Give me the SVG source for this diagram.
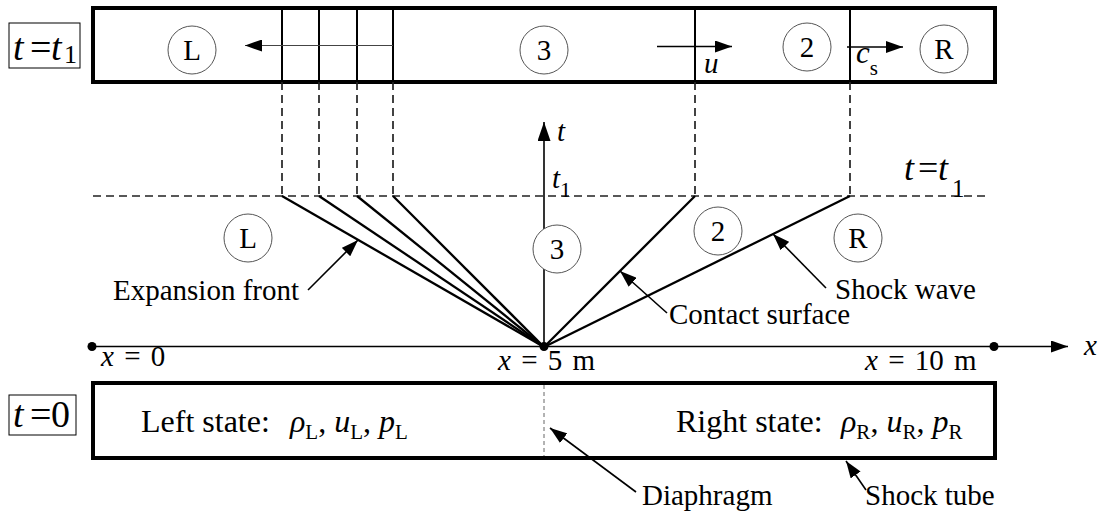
<svg xmlns="http://www.w3.org/2000/svg" width="1102" height="513" viewBox="0 0 1102 513" font-family="'Liberation Serif', 'Times New Roman', serif">
<style>
text{font-family:'Liberation Serif','Times New Roman',serif;fill:#000}
.lbl{font-size:29px}
.it{font-style:italic}
.box{fill:none;stroke:#000;stroke-width:4;stroke-linejoin:miter}
.tag{fill:none;stroke:#000;stroke-width:1}
.cir{fill:#fff;stroke:#555;stroke-width:1}
.cl{font-size:29px;text-anchor:middle}
.dash{fill:none;stroke:#222;stroke-width:1.7;stroke-dasharray:8 5}
.wall{stroke:#000;stroke-width:2}
.fan{stroke:#000;stroke-width:2.3;fill:none}
.ptr{stroke:#000;stroke-width:1.6;fill:none;marker-end:url(#ah)}
</style>
<defs>
<marker id="ah" viewBox="0 0 17 12" refX="17" refY="6" markerWidth="17" markerHeight="12" markerUnits="userSpaceOnUse" orient="auto">
<path d="M0,0 L17,6 L0,12 z" fill="#000"/>
</marker>
<marker id="ax" viewBox="0 0 19 13" refX="19" refY="6.5" markerWidth="19" markerHeight="13" markerUnits="userSpaceOnUse" orient="auto">
<path d="M0,0 L19,6.5 L0,13 z" fill="#000"/>
</marker>
</defs>

<g id="tag-t1">
<rect class="tag" x="9" y="23" width="71" height="45"/>
<text font-size="38" y="60"><tspan class="it" x="13">t</tspan><tspan x="30">=</tspan><tspan class="it" x="51">t</tspan><tspan x="64" dy="3" font-size="26">1</tspan></text>
</g>

<g id="tag-t0">
<rect class="tag" x="9" y="395" width="67" height="40"/>
<text font-size="38" y="427"><tspan class="it" x="13">t</tspan><tspan x="30">=</tspan><tspan x="51">0</tspan></text>
</g>

<g id="tube-t1">
<rect class="box" x="93" y="8" width="902" height="74"/>
<line class="wall" x1="282" y1="8" x2="282" y2="82"/>
<line class="wall" x1="319" y1="8" x2="319" y2="82"/>
<line class="wall" x1="357" y1="8" x2="357" y2="82"/>
<line class="wall" x1="393" y1="8" x2="393" y2="82"/>
<line class="wall" x1="695" y1="8" x2="695" y2="82"/>
<line class="wall" x1="850" y1="8" x2="850" y2="82"/>
</g>

<g id="top-L"><circle class="cir" cx="192" cy="50" r="24"/><text class="cl" x="192" y="60">L</text></g>
<g id="top-3"><circle class="cir" cx="544" cy="50" r="24"/><text class="cl" x="544" y="60">3</text></g>
<g id="top-2"><circle class="cir" cx="807" cy="47" r="24"/><text class="cl" x="807" y="57">2</text></g>
<g id="top-R"><circle class="cir" cx="944" cy="49" r="24"/><text class="cl" x="944" y="59">R</text></g>

<g id="top-arrows">
<line x1="393" y1="45.5" x2="245" y2="45.5" stroke="#444" stroke-width="1.2" marker-end="url(#ah)"/>
<line x1="657" y1="46.5" x2="732" y2="46.5" stroke="#000" stroke-width="1.5" marker-end="url(#ah)"/>
<line x1="847" y1="47" x2="903" y2="47" stroke="#000" stroke-width="1.5" marker-end="url(#ah)"/>
<text class="lbl it" x="704" y="73">u</text>
<text x="856" y="63" font-size="31"><tspan class="it">c</tspan><tspan font-size="21" dy="12">s</tspan></text>
</g>

<g id="connectors">
<line class="dash" x1="282" y1="82" x2="282" y2="196"/>
<line class="dash" x1="319" y1="82" x2="319" y2="196"/>
<line class="dash" x1="357" y1="82" x2="357" y2="196"/>
<line class="dash" x1="393" y1="82" x2="393" y2="196"/>
<line class="dash" x1="695" y1="82" x2="695" y2="196"/>
<line class="dash" x1="850" y1="82" x2="850" y2="196"/>
<line class="dash" x1="93" y1="196" x2="988" y2="196"/>
<line x1="544" y1="347" x2="544" y2="122" stroke="#000" stroke-width="1.6" marker-end="url(#ax)"/>
<line x1="92" y1="346.5" x2="1068" y2="346.5" stroke="#000" stroke-width="1.6" marker-end="url(#ah)"/>
<line class="fan" x1="544" y1="347" x2="282" y2="196"/>
<line class="fan" x1="544" y1="347" x2="319" y2="196"/>
<line class="fan" x1="544" y1="347" x2="357" y2="196"/>
<line class="fan" x1="544" y1="347" x2="393" y2="196"/>
<line class="fan" x1="544" y1="347" x2="695" y2="196"/>
<line class="fan" x1="544" y1="347" x2="850" y2="196"/>
<line class="ptr" x1="308" y1="290" x2="358" y2="240"/>
<line class="ptr" x1="667" y1="313" x2="620" y2="271"/>
<line class="ptr" x1="826" y1="288" x2="773" y2="234"/>
<line class="ptr" x1="636" y1="492" x2="550" y2="428"/>
<line class="ptr" x1="866" y1="490" x2="846" y2="461"/>
<circle cx="92" cy="346.5" r="4.5" fill="#000"/>
<circle cx="544" cy="346.5" r="4.5" fill="#000"/>
<circle cx="994" cy="346.5" r="4.5" fill="#000"/>
</g>

<g id="mid-L"><circle class="cir" cx="248" cy="238" r="24"/><text class="cl" x="248" y="248">L</text></g>
<g id="mid-3"><circle class="cir" cx="557" cy="249" r="24"/><text class="cl" x="557" y="259">3</text></g>
<g id="mid-2"><circle class="cir" cx="718" cy="231" r="24"/><text class="cl" x="718" y="241">2</text></g>
<g id="mid-R"><circle class="cir" cx="858" cy="238" r="24"/><text class="cl" x="858" y="248">R</text></g>

<g id="axis-labels">
<text class="it" x="557" y="141" font-size="29">t</text>
<text x="552" y="188" font-size="29"><tspan class="it">t</tspan><tspan font-size="22" dy="9">1</tspan></text>
<text font-size="36" y="180"><tspan class="it" x="904">t</tspan><tspan x="918">=</tspan><tspan class="it" x="938">t</tspan><tspan x="952" dy="17" font-size="25">1</tspan></text>
<text class="lbl it" x="1084" y="355">x</text>
<text class="lbl" x="101" y="366" word-spacing="3"><tspan class="it">x</tspan> = 0</text>
<text class="lbl" x="498" y="370" word-spacing="3"><tspan class="it">x</tspan> = 5 m</text>
<text class="lbl" x="865" y="370" word-spacing="3"><tspan class="it">x</tspan> = 10 m</text>
</g>

<g id="annotations">
<text class="lbl" x="113" y="300">Expansion front</text>
<text class="lbl" x="669" y="324">Contact surface</text>
<text class="lbl" x="835" y="299">Shock wave</text>
<text class="lbl" x="642" y="505">Diaphragm</text>
<text class="lbl" x="865" y="505">Shock tube</text>
</g>

<g id="tube-t0">
<rect class="box" x="93" y="383" width="902" height="75"/>
<line x1="544" y1="385" x2="544" y2="456" stroke="#666" stroke-width="1" stroke-dasharray="4 3"/>
<text font-size="32" y="432"><tspan x="141">Left state:</tspan><tspan class="it" x="290">ρ</tspan><tspan font-size="21" dy="7">L</tspan><tspan dy="-7">, </tspan><tspan class="it">u</tspan><tspan font-size="21" dy="7">L</tspan><tspan dy="-7">, </tspan><tspan class="it">p</tspan><tspan font-size="21" dy="7">L</tspan></text>
<text font-size="32" y="432"><tspan x="676">Right state:</tspan><tspan class="it" x="841">ρ</tspan><tspan font-size="21" dy="7">R</tspan><tspan dy="-7">, </tspan><tspan class="it">u</tspan><tspan font-size="21" dy="7">R</tspan><tspan dy="-7">, </tspan><tspan class="it">p</tspan><tspan font-size="21" dy="7">R</tspan></text>
</g>
</svg>
